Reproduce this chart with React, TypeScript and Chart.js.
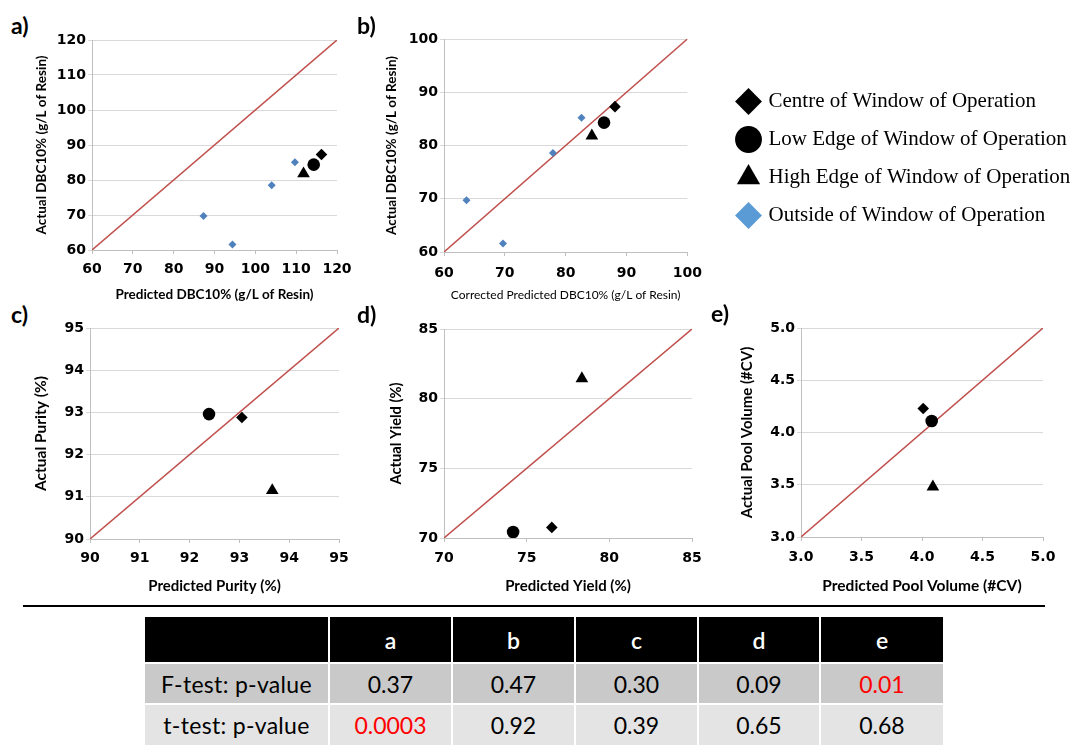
import React, { useEffect, useRef } from 'react';
import { Chart, registerables } from 'chart.js';

Chart.register(...registerables);

// ---------- data ----------
const seriesNames = [
  'Centre of Window of Operation',
  'Low Edge of Window of Operation',
  'High Edge of Window of Operation',
  'Outside of Window of Operation',
];

// order inside each array: [centre, low edge, high edge]
const aPredicted = [116.2, 114.3, 111.8];
const aActual = [87.3, 84.4, 81.8];
const aOutsidePredicted = [87.3, 94.4, 104.0, 109.7];
const aOutsideActual = [69.7, 61.6, 78.5, 85.1];

const bPredicted = [88.1, 86.3, 84.3];
const bActual = [87.3, 84.3, 81.8];
const bOutsidePredicted = [63.7, 69.7, 77.9, 82.6];
const bOutsideActual = [69.7, 61.6, 78.6, 85.2];

const cPredicted = [93.05, 92.39, 93.66];
const cActual = [92.88, 92.96, 91.15];

const dPredicted = [76.52, 74.18, 78.34];
const dActual = [70.76, 70.43, 81.44];

const ePredicted = [4.01, 4.08, 4.09];
const eActual = [4.23, 4.11, 3.48];

const tableColumns = ['a', 'b', 'c', 'd', 'e'];
const fTestP = ['0.37', '0.47', '0.30', '0.09', '0.01'];
const tTestP = ['0.0003', '0.92', '0.39', '0.65', '0.68'];
const significance = 0.05;

// ---------- panels ----------
type Range = { min: number; max: number; step: number; decimals: number };
type TitleFont = { size: number; weight: string };

interface PanelSpec {
  plot: { l: number; t: number; r: number; b: number };
  yTitleX: number;
  xTitleY: number;
  xTitle: string;
  yTitle: string;
  xTitleFont: TitleFont;
  yTitleFont: TitleFont;
  range: Range;
  predicted: number[];
  actual: number[];
  outsidePredicted?: number[];
  outsideActual?: number[];
  tickPad: number;
}

const PAD_TOP = 12;
const PAD_RIGHT = 22;
const TICK_SIZE = 14;

function Panel({ spec }: { spec: PanelSpec }) {
  const ref = useRef<HTMLCanvasElement>(null);
  const yLH = spec.yTitleFont.size * 1.2;
  const xLH = spec.xTitleFont.size * 1.2;
  const left = Math.round(spec.yTitleX - yLH / 2);
  const top = spec.plot.t - PAD_TOP;
  const width = spec.plot.r + PAD_RIGHT - left;
  const bottom = Math.round(spec.xTitleY + xLH / 2);
  const height = bottom - top;
  const yW = spec.plot.l - left;
  const xH = bottom - spec.plot.b;

  useEffect(() => {
    const { min, max, step, decimals } = spec.range;
    const markers = [
      { style: 'rectRot', radius: 5.8 },
      { style: 'circle', radius: 6.3 },
      { style: 'triangle', radius: 7.3 },
    ];
    const datasets: any[] = markers.map((m, i) => ({
      label: seriesNames[i],
      data: [{ x: spec.predicted[i], y: spec.actual[i] }],
      pointStyle: m.style,
      pointRadius: m.radius,
      backgroundColor: '#000',
      pointBackgroundColor: '#000',
      borderColor: '#000',
      pointBorderWidth: 0,
      order: 1,
    }));
    if (spec.outsidePredicted && spec.outsideActual) {
      const oy = spec.outsideActual;
      datasets.push({
        label: seriesNames[3],
        data: spec.outsidePredicted.map((x, i) => ({ x, y: oy[i] })),
        pointStyle: 'rectRot',
        pointRadius: 4,
        backgroundColor: '#4f81bd',
        pointBackgroundColor: '#4f81bd',
        borderColor: '#4f81bd',
        pointBorderWidth: 0,
        order: 2,
      });
    }
    datasets.push({
      label: 'y = x',
      data: [
        { x: min, y: min },
        { x: max, y: max },
      ],
      showLine: true,
      borderColor: '#c0504d',
      borderWidth: 1.5,
      pointRadius: 0,
      order: 10,
    });

    const tickFont = { family: 'DejaVu Sans', size: TICK_SIZE, weight: 'bold' as const };
    const fmt = (v: any) => Number(v).toFixed(decimals);

    const chart = new Chart(ref.current as HTMLCanvasElement, {
      type: 'scatter',
      data: { datasets },
      options: {
        responsive: false,
        animation: false,
        events: [],
        layout: { padding: { top: PAD_TOP, right: PAD_RIGHT, left: 0, bottom: 0 } },
        plugins: { legend: { display: false }, tooltip: { enabled: false } },
        scales: {
          x: {
            type: 'linear',
            position: 'bottom',
            min,
            max,
            ticks: {
              stepSize: step,
              font: tickFont,
              color: '#000',
              padding: spec.tickPad,
              callback: fmt,
              maxRotation: 0,
              autoSkip: false,
            },
            grid: { drawOnChartArea: false, drawTicks: true, tickLength: 4, color: '#bfbfbf' },
            border: { color: '#bfbfbf' },
            title: {
              display: true,
              text: spec.xTitle,
              color: '#000',
              padding: 0,
              font: { family: 'Lato', size: spec.xTitleFont.size, weight: spec.xTitleFont.weight as any },
            },
            afterFit: (s: any) => {
              s.height = xH;
            },
          },
          y: {
            type: 'linear',
            min,
            max,
            ticks: {
              stepSize: step,
              font: tickFont,
              color: '#000',
              padding: 2,
              callback: fmt,
              autoSkip: false,
            },
            grid: { drawTicks: true, tickLength: 4, color: '#d9d9d9' },
            border: { color: '#bfbfbf' },
            title: {
              display: true,
              text: spec.yTitle,
              color: '#000',
              padding: 0,
              font: { family: 'Lato', size: spec.yTitleFont.size, weight: spec.yTitleFont.weight as any },
            },
            afterFit: (s: any) => {
              s.width = yW;
            },
          },
        },
      } as any,
    });
    return () => chart.destroy();
  }, []);

  return (
    <canvas
      ref={ref}
      width={width}
      height={height}
      style={{ position: 'absolute', left, top, width, height }}
    />
  );
}

function LegendBox() {
  const ref = useRef<HTMLCanvasElement>(null);
  const left = 722;
  const top = 74;
  const width = 359;
  const height = 230;
  useEffect(() => {
    const styles = [
      { style: 'rectRot', color: '#000' },
      { style: 'circle', color: '#000' },
      { style: 'triangle', color: '#000' },
      { style: 'rectRot', color: '#5b9bd5' },
    ];
    const chart = new Chart(ref.current as HTMLCanvasElement, {
      type: 'scatter',
      data: {
        datasets: styles.map((s, i) => ({
          label: seriesNames[i],
          data: [],
          pointStyle: s.style,
          backgroundColor: s.color,
          pointBackgroundColor: s.color,
          borderColor: s.color,
          borderWidth: 0,
          pointBorderWidth: 0,
        })),
      },
      options: {
        responsive: false,
        animation: false,
        events: [],
        scales: { x: { display: false }, y: { display: false } },
        plugins: {
          tooltip: { enabled: false },
          legend: {
            display: true,
            position: 'top',
            align: 'start',
            maxHeight: 220,
            labels: {
              usePointStyle: true,
              boxWidth: 19,
              boxHeight: 19,
              padding: 17,
              color: '#000',
              font: { family: 'Liberation Serif', size: 21 },
            },
          },
        },
      } as any,
    });
    return () => chart.destroy();
  }, []);
  return (
    <canvas
      ref={ref}
      width={width}
      height={height}
      style={{ position: 'absolute', left, top, width, height }}
    />
  );
}

function StatsTable() {
  const colEdges = [145, 329, 452, 575, 698, 820, 943];
  const rowEdges = [617, 663, 704, 745];
  const rows: { cells: string[]; bg: string; color: string; numeric: boolean }[] = [
    { cells: ['', ...tableColumns], bg: '#000', color: '#fff', numeric: false },
    { cells: ['F-test: p-value', ...fTestP], bg: '#c9c9c9', color: '#000', numeric: true },
    { cells: ['t-test: p-value', ...tTestP], bg: '#e4e4e4', color: '#000', numeric: true },
  ];
  const out: any[] = [];
  rows.forEach((row, r) => {
    const y0 = rowEdges[r] + (r > 0 ? 1 : 0);
    const y1 = rowEdges[r + 1] - (r < rows.length - 1 ? 1 : 0);
    row.cells.forEach((txt, c) => {
      const x0 = colEdges[c] + (c > 0 ? 1 : 0);
      const x1 = colEdges[c + 1] - (c < row.cells.length - 1 ? 1 : 0);
      const red = row.numeric && c > 0 && parseFloat(txt) < significance;
      out.push(
        <div
          key={r + '-' + c}
          style={{
            position: 'absolute',
            left: x0,
            top: y0,
            width: x1 - x0,
            height: y1 - y0,
            background: row.bg,
            color: red ? '#ff0000' : row.color,
            fontFamily: 'Lato, sans-serif',
            fontSize: 23,
            fontWeight: r === 0 ? 600 : 'normal',
            display: 'flex',
            alignItems: 'center',
            justifyContent: 'center',
            letterSpacing: c === 0 ? 0.3 : 0,
            whiteSpace: 'nowrap',
          }}
        >
          {txt}
        </div>
      );
    });
  });
  return <>{out}</>;
}

const panels: PanelSpec[] = [
  {
    plot: { l: 92, t: 40, r: 337, b: 250 },
    yTitleX: 41.7,
    xTitleY: 295,
    xTitle: 'Predicted DBC10% (g/L of Resin)',
    yTitle: 'Actual DBC10% (g/L of Resin)',
    xTitleFont: { size: 13.5, weight: 'bold' },
    yTitleFont: { size: 13.5, weight: 'bold' },
    range: { min: 60, max: 120, step: 10, decimals: 0 },
    predicted: aPredicted,
    actual: aActual,
    outsidePredicted: aOutsidePredicted,
    outsideActual: aOutsideActual,
    tickPad: 7,
  },
  {
    plot: { l: 444, t: 39, r: 689, b: 252 },
    yTitleX: 391.7,
    xTitleY: 295,
    xTitle: 'Corrected Predicted DBC10% (g/L of Resin)',
    yTitle: 'Actual DBC10% (g/L of Resin)',
    xTitleFont: { size: 12, weight: 'normal' },
    yTitleFont: { size: 13.5, weight: 'bold' },
    range: { min: 60, max: 100, step: 10, decimals: 0 },
    predicted: bPredicted,
    actual: bActual,
    outsidePredicted: bOutsidePredicted,
    outsideActual: bOutsideActual,
    tickPad: 9,
  },
  {
    plot: { l: 90, t: 328, r: 339, b: 539 },
    yTitleX: 41.7,
    xTitleY: 586,
    xTitle: 'Predicted Purity (%)',
    yTitle: 'Actual Purity (%)',
    xTitleFont: { size: 15, weight: 'bold' },
    yTitleFont: { size: 15.5, weight: 'bold' },
    range: { min: 90, max: 95, step: 1, decimals: 0 },
    predicted: cPredicted,
    actual: cActual,
    tickPad: 7,
  },
  {
    plot: { l: 444, t: 329, r: 692, b: 538 },
    yTitleX: 395.7,
    xTitleY: 586,
    xTitle: 'Predicted Yield (%)',
    yTitle: 'Actual Yield (%)',
    xTitleFont: { size: 15, weight: 'bold' },
    yTitleFont: { size: 14.7, weight: 'bold' },
    range: { min: 70, max: 85, step: 5, decimals: 0 },
    predicted: dPredicted,
    actual: dActual,
    tickPad: 8,
  },
  {
    plot: { l: 801, t: 328, r: 1043, b: 537 },
    yTitleX: 746.7,
    xTitleY: 586,
    xTitle: 'Predicted Pool Volume (#CV)',
    yTitle: 'Actual Pool Volume (#CV)',
    xTitleFont: { size: 15.5, weight: 'bold' },
    yTitleFont: { size: 15, weight: 'bold' },
    range: { min: 3, max: 5, step: 0.5, decimals: 1 },
    predicted: ePredicted,
    actual: eActual,
    tickPad: 8,
  },
];

const panelLabels = [
  { text: 'a)', x: 11, y: 12 },
  { text: 'b)', x: 357, y: 12 },
  { text: 'c)', x: 11, y: 301 },
  { text: 'd)', x: 357, y: 301 },
  { text: 'e)', x: 711, y: 300 },
];

export default function App() {
  return (
    <div
      style={{
        position: 'absolute',
        left: 0,
        top: 0,
        width: 1081,
        height: 745,
        background: '#fff',
        overflow: 'hidden',
      }}
    >
      {panels.map((p, i) => (
        <Panel key={i} spec={p} />
      ))}
      {panelLabels.map((l) => (
        <div
          key={l.text}
          style={{
            position: 'absolute',
            left: l.x,
            top: l.y,
            fontFamily: 'Lato, sans-serif',
            fontWeight: 'bold',
            fontSize: 23,
            lineHeight: '26px',
            color: '#000',
          }}
        >
          {l.text}
        </div>
      ))}
      <LegendBox />
      <div
        style={{ position: 'absolute', left: 23, top: 605, width: 1022, height: 2, background: '#000' }}
      />
      <StatsTable />
    </div>
  );
}
